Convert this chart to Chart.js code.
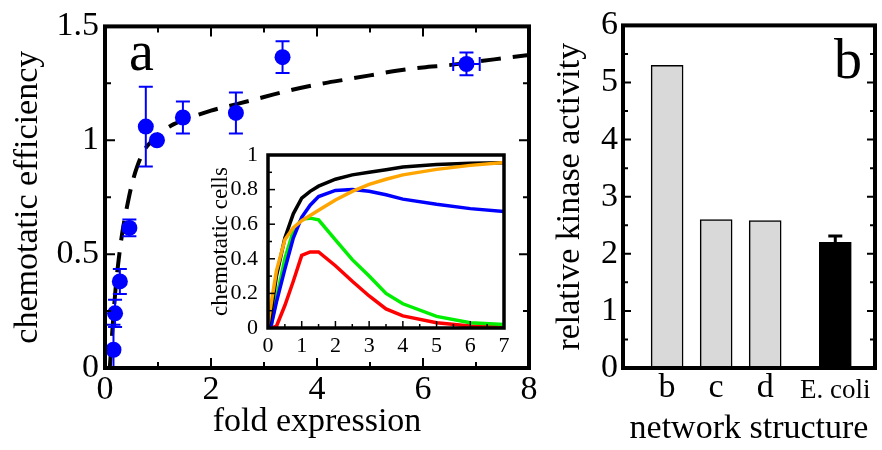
<!DOCTYPE html>
<html>
<head>
<meta charset="utf-8">
<script src="https://cdn.jsdelivr.net/npm/chart.js@4.4.0/dist/chart.umd.min.js"></script>
<style>
body { margin: 0; background: #fff; }
#wrap { position: relative; width: 882px; height: 450px; overflow: hidden; }
canvas { position: absolute; }
</style>
</head>
<body>
<div id="wrap">
  <canvas id="efficiencyChart" width="540" height="450" style="left:0;top:0"></canvas>
  <canvas id="insetChart" width="320" height="235" style="left:200px;top:130px"></canvas>
  <canvas id="kinaseChart" width="342" height="450" style="left:540px;top:0"></canvas>
</div>
<script>
// ---------- panel a : measured points ----------
const foldExpr = [0.16, 0.19, 0.28, 0.46, 0.77, 0.98, 1.47, 2.47, 3.35, 6.82];
const efficiency = [0.08, 0.24, 0.38, 0.615, 1.06, 1.0, 1.10, 1.12, 1.365, 1.335];
const efficiencyErr = [0.11, 0.06, 0.055, 0.037, 0.175, 0.0, 0.07, 0.09, 0.07, 0.05];
const foldExprErr = [0, 0, 0, 0, 0, 0, 0, 0, 0, 0.25];

// dashed fit curve
const fitX = [0.09, 0.15, 0.2, 0.26, 0.33, 0.4, 0.5, 0.6, 0.75, 0.9, 1.0, 1.25, 1.5, 2, 2.5, 3, 3.5, 4, 4.5, 5, 5.5, 6, 6.5, 7, 7.5, 8];
const fitY = [0, 0.2, 0.35, 0.48, 0.6, 0.69, 0.8, 0.88, 0.96, 1.0, 1.025, 1.065, 1.09, 1.13, 1.16, 1.19, 1.22, 1.245, 1.265, 1.285, 1.305, 1.32, 1.33, 1.345, 1.36, 1.375];

const effXMajor = [0, 2, 4, 6, 8];
const effXMinor = [1, 3, 5, 7];
const effYMajor = [0, 0.5, 1, 1.5];
const effYMinor = [0.25, 0.75, 1.25];

// ---------- inset : chemotatic cells ----------
const insetX = [0, 0.1, 0.25, 0.5, 0.75, 1, 1.25, 1.5, 2, 2.5, 3, 3.5, 4, 5, 6, 7];
const cellsBlack = [0, 0.1, 0.3, 0.52, 0.66, 0.75, 0.79, 0.82, 0.86, 0.885, 0.9, 0.915, 0.93, 0.945, 0.952, 0.955];
const cellsBlue = [0, 0.02, 0.15, 0.34, 0.52, 0.64, 0.71, 0.76, 0.795, 0.8, 0.79, 0.77, 0.745, 0.715, 0.69, 0.673];
const cellsOrange = [0.02, 0.15, 0.33, 0.51, 0.58, 0.62, 0.65, 0.68, 0.74, 0.79, 0.83, 0.86, 0.885, 0.917, 0.94, 0.957];
const cellsGreen = [0, 0.02, 0.17, 0.4, 0.56, 0.63, 0.635, 0.625, 0.51, 0.395, 0.3, 0.2, 0.14, 0.067, 0.03, 0.02];
const cellsRed = [0, 0, 0.01, 0.13, 0.27, 0.42, 0.44, 0.44, 0.36, 0.27, 0.185, 0.11, 0.07, 0.03, 0.012, 0.006];

const insetXMajor = [0, 1, 2, 3, 4, 5, 6, 7];
const insetXMinor = [0.5, 1.5, 2.5, 3.5, 4.5, 5.5, 6.5];
const insetYMajor = [0, 0.2, 0.4, 0.6, 0.8, 1];
const insetYMinor = [0.1, 0.3, 0.5, 0.7, 0.9];

// ---------- panel b : kinase activity ----------
const networkLabels = ['b', 'c', 'd', 'E. coli'];
const networkPos = [0.9, 1.9, 2.9, 4.33];
const kinase = [5.3, 2.6, 2.58, 2.2];
const kinaseErr = [0, 0, 0, 0.11];
const kinaseYMajor = [0, 1, 2, 3, 4, 5, 6];
const kinaseYMinor = [0.5, 1.5, 2.5, 3.5, 4.5, 5.5];

Chart.defaults.font.family = "'Liberation Serif', 'DejaVu Serif', serif";
Chart.defaults.color = '#000';

// frame box + inward tick marks
const framePlugin = {
    id: 'frame',
    afterDraw(chart, args, opts) {
        const ctx = chart.ctx;
        const a = chart.chartArea;
        const xs = chart.scales.x, ys = chart.scales.y;
        ctx.save();
        ctx.strokeStyle = '#000';
        ctx.lineWidth = opts.tickWidth;
        const xTick = (vals, len) => vals.forEach(v => {
            const px = xs.getPixelForValue(v);
            ctx.beginPath();
            ctx.moveTo(px, a.bottom); ctx.lineTo(px, a.bottom - len);
            if (opts.top) { ctx.moveTo(px, a.top); ctx.lineTo(px, a.top + len); }
            ctx.stroke();
        });
        const yTick = (vals, len) => vals.forEach(v => {
            const py = ys.getPixelForValue(v);
            ctx.beginPath();
            ctx.moveTo(a.left, py); ctx.lineTo(a.left + len, py);
            if (opts.right) { ctx.moveTo(a.right, py); ctx.lineTo(a.right - len, py); }
            ctx.stroke();
        });
        if (opts.xMajor) xTick(opts.xMajor, opts.majorLen);
        if (opts.xMinor) xTick(opts.xMinor, opts.minorLen);
        if (opts.yMajor) yTick(opts.yMajor, opts.majorLen);
        if (opts.yMinor) yTick(opts.yMinor, opts.minorLen);
        ctx.lineWidth = opts.width;
        ctx.strokeRect(a.left, a.top, a.right - a.left, a.bottom - a.top);
        if (opts.label) {
            ctx.fillStyle = '#000';
            ctx.font = opts.labelFont;
            ctx.textBaseline = 'alphabetic';
            ctx.fillText(opts.label, opts.labelX, opts.labelY);
        }
        ctx.restore();
    }
};

const errorBarPlugin = {
    id: 'errorBars',
    afterDatasetsDraw(chart) {
        const ctx = chart.ctx;
        const a = chart.chartArea;
        chart.data.datasets.forEach((ds, i) => {
            if (!ds.errorBars) return;
            const meta = chart.getDatasetMeta(i);
            const xs = chart.scales[meta.xAxisID], ys = chart.scales[meta.yAxisID];
            const eb = ds.errorBars;
            ctx.save();
            ctx.beginPath();
            ctx.rect(a.left, a.top, a.right - a.left, a.bottom - a.top);
            ctx.clip();
            ctx.strokeStyle = eb.color;
            ctx.lineWidth = eb.width;
            ds.data.forEach(d => {
                const px = xs.getPixelForValue(d.x), py = ys.getPixelForValue(d.y);
                if (d.yErr) {
                    const t = ys.getPixelForValue(d.y + d.yErr);
                    const b = eb.upOnly ? py : ys.getPixelForValue(d.y - d.yErr);
                    ctx.beginPath();
                    ctx.moveTo(px, t); ctx.lineTo(px, b);
                    ctx.moveTo(px - eb.cap, t); ctx.lineTo(px + eb.cap, t);
                    if (!eb.upOnly) { ctx.moveTo(px - eb.cap, b); ctx.lineTo(px + eb.cap, b); }
                    ctx.stroke();
                }
                if (d.xErr) {
                    const l = xs.getPixelForValue(d.x - d.xErr), r = xs.getPixelForValue(d.x + d.xErr);
                    ctx.beginPath();
                    ctx.moveTo(l, py); ctx.lineTo(r, py);
                    ctx.moveTo(l, py - eb.cap); ctx.lineTo(l, py + eb.cap);
                    ctx.moveTo(r, py - eb.cap); ctx.lineTo(r, py + eb.cap);
                    ctx.stroke();
                }
            });
            ctx.restore();
        });
    }
};

const noGrid = { display: false, drawTicks: false };
const noBorder = { display: false };
const fmt = v => String(Math.round(v * 100) / 100);

//------------ panel a ------------//
const efficiencyChart = document.getElementById('efficiencyChart');
new Chart(efficiencyChart, {
    type: 'scatter',
    data: {
        datasets: [{
            data: foldExpr.map((x, i) => ({ x: x, y: efficiency[i], yErr: efficiencyErr[i], xErr: foldExprErr[i] })),
            backgroundColor: '#0000ff',
            borderWidth: 0,
            pointRadius: 8,
            errorBars: { color: '#0000ff', width: 2, cap: 7 }
        }, {
            data: fitX.map((x, i) => ({ x: x, y: fitY[i] })),
            showLine: true,
            pointRadius: 0,
            borderColor: '#000',
            borderWidth: 4,
            borderDash: [20, 12],
            cubicInterpolationMode: 'monotone'
        }]
    },
    options: {
        responsive: false,
        animation: false,
        layout: { padding: { top: 24, right: 11, left: 0, bottom: 0 } },
        plugins: {
            legend: false,
            tooltip: { enabled: false },
            frame: {
                width: 4, tickWidth: 2, majorLen: 10, minorLen: 6, top: true, right: true,
                xMajor: effXMajor, xMinor: effXMinor, yMajor: effYMajor, yMinor: effYMinor,
                label: 'a', labelFont: "56px 'Liberation Serif'", labelX: 129, labelY: 70
            }
        },
        scales: {
            x: {
                type: 'linear', min: 0, max: 8,
                grid: noGrid, border: noBorder,
                afterBuildTicks: s => { s.ticks = effXMajor.map(v => ({ value: v })); },
                afterFit: s => { s.height = 82; },
                ticks: { font: { size: 34 }, padding: 2, callback: fmt },
                title: { display: true, text: 'fold expression', font: { size: 34 }, padding: { top: 0, bottom: 8 } }
            },
            y: {
                type: 'linear', min: 0, max: 1.5,
                grid: noGrid, border: noBorder,
                afterBuildTicks: s => { s.ticks = effYMajor.map(v => ({ value: v })); },
                afterFit: s => { s.width = 105; },
                ticks: { font: { size: 34 }, padding: 6, callback: fmt },
                title: { display: true, text: 'chemotatic efficiency', font: { size: 34 }, padding: { top: 8, bottom: 0 } }
            }
        }
    },
    plugins: [framePlugin, errorBarPlugin]
});

//------------ inset ------------//
const insetChart = document.getElementById('insetChart');
const insetLine = (vals, color) => ({
    data: insetX.map((x, i) => ({ x: x, y: vals[i] })),
    showLine: true,
    pointRadius: 0,
    borderColor: color,
    borderWidth: 3.5,
    tension: 0
});
new Chart(insetChart, {
    type: 'scatter',
    data: {
        datasets: [
            insetLine(cellsOrange, '#ffa500'),
            insetLine(cellsBlack, '#000000'),
            insetLine(cellsBlue, '#0000ff'),
            insetLine(cellsGreen, '#00ee00'),
            insetLine(cellsRed, '#ff0000')
        ]
    },
    options: {
        responsive: false,
        animation: false,
        layout: { padding: { top: 25, right: 16, left: 0, bottom: 0 } },
        plugins: {
            legend: false,
            tooltip: { enabled: false },
            frame: {
                width: 3.5, tickWidth: 1.5, majorLen: 7, minorLen: 4, top: false, right: false,
                xMajor: insetXMajor, xMinor: insetXMinor, yMajor: insetYMajor, yMinor: insetYMinor
            }
        },
        scales: {
            x: {
                type: 'linear', min: 0, max: 7,
                grid: noGrid, border: noBorder,
                afterBuildTicks: s => { s.ticks = insetXMajor.map(v => ({ value: v })); },
                afterFit: s => { s.height = 37; },
                ticks: { font: { size: 22 }, padding: 5, callback: fmt }
            },
            y: {
                type: 'linear', min: 0, max: 1,
                grid: noGrid, border: noBorder,
                afterBuildTicks: s => { s.ticks = insetYMajor.map(v => ({ value: v })); },
                afterFit: s => { s.width = 68; },
                ticks: { font: { size: 22 }, padding: 10, callback: fmt },
                title: { display: true, text: 'chemotatic cells', font: { size: 23 }, padding: { top: 7, bottom: 0 } }
            }
        }
    },
    plugins: [framePlugin]
});

//------------ panel b ------------//
const kinaseChart = document.getElementById('kinaseChart');
new Chart(kinaseChart, {
    type: 'bar',
    data: {
        datasets: [{
            data: networkPos.map((x, i) => ({ x: x, y: kinase[i], yErr: kinaseErr[i] })),
            backgroundColor: ['#d9d9d9', '#d9d9d9', '#d9d9d9', '#000000'],
            borderColor: '#000',
            borderWidth: 1.5,
            barThickness: 32,
            errorBars: { color: '#000', width: 3, cap: 7, upOnly: true }
        }]
    },
    options: {
        responsive: false,
        animation: false,
        layout: { padding: { top: 24, right: 7, left: 0, bottom: 0 } },
        plugins: {
            legend: false,
            tooltip: { enabled: false },
            frame: {
                width: 4, tickWidth: 2, majorLen: 8, minorLen: 5, top: false, right: true,
                yMajor: kinaseYMajor, yMinor: kinaseYMinor,
                label: 'b', labelFont: "56px 'Liberation Serif'", labelX: 294, labelY: 78
            }
        },
        scales: {
            x: {
                type: 'linear', min: 0, max: 5.14, offset: false,
                grid: noGrid, border: noBorder,
                afterBuildTicks: s => { s.ticks = networkPos.map(v => ({ value: v })); },
                afterFit: s => { s.height = 82; },
                ticks: {
                    padding: 0,
                    font: ctx => ctx.index === 3 ? { size: 27, lineHeight: 1.69 } : { size: 34 },
                    callback: (v, i) => networkLabels[i]
                },
                title: { display: true, text: 'network structure', font: { size: 34 }, padding: { top: 0, bottom: 1 } }
            },
            y: {
                type: 'linear', min: 0, max: 6,
                grid: noGrid, border: noBorder,
                afterBuildTicks: s => { s.ticks = kinaseYMajor.map(v => ({ value: v })); },
                afterFit: s => { s.width = 83; },
                ticks: { font: { size: 34 }, padding: 5, callback: fmt },
                title: { display: true, text: 'relative kinase activity', font: { size: 34 }, padding: { top: 10, bottom: 0 } }
            }
        }
    },
    plugins: [framePlugin, errorBarPlugin]
});
</script>
</body>
</html>
